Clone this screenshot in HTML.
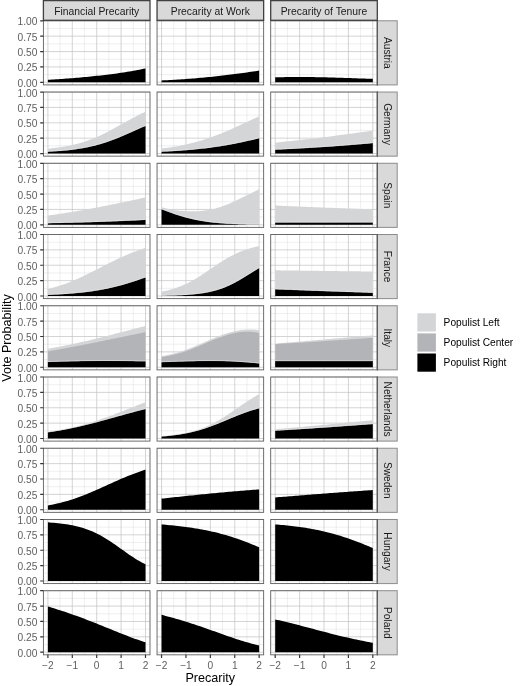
<!DOCTYPE html>
<html lang="en"><head><meta charset="utf-8"><title>Vote Probability by Precarity</title>
<style>html,body{margin:0;padding:0;background:#fff}svg{display:block}</style></head>
<body>
<svg width="520" height="686" viewBox="0 0 520 686" font-family="Liberation Sans, Arial, Helvetica, sans-serif">
<rect width="520" height="686" fill="#fff"/>
<g>
<path d="M43.4 74.61H150M43.4 59.24H150M43.4 43.86H150M43.4 28.49H150M60.1 20.8V84.9M84.5 20.8V84.9M108.9 20.8V84.9M133.3 20.8V84.9" stroke="#d6d6d6" stroke-width="0.4" fill="none"/>
<path d="M43.4 82.3H150M43.4 66.92H150M43.4 51.55H150M43.4 36.17H150M43.4 20.8H150M47.9 20.8V84.9M72.3 20.8V84.9M96.7 20.8V84.9M121.1 20.8V84.9M145.5 20.8V84.9" stroke="#c2c2c2" stroke-width="0.7" fill="none"/>
<polygon points="47.9,79.84 49.93,79.72 51.97,79.59 54,79.46 56.03,79.33 58.07,79.19 60.1,79.05 62.13,78.91 64.17,78.76 66.2,78.61 68.23,78.45 70.27,78.3 72.3,78.13 74.33,77.97 76.37,77.8 78.4,77.63 80.43,77.45 82.47,77.27 84.5,77.08 86.53,76.89 88.57,76.69 90.6,76.5 92.63,76.29 94.67,76.08 96.7,75.87 98.73,75.65 100.77,75.42 102.8,75.19 104.83,74.95 106.87,74.71 108.9,74.46 110.93,74.2 112.97,73.94 115,73.67 117.03,73.39 119.07,73.1 121.1,72.8 123.13,72.5 125.17,72.18 127.2,71.86 129.23,71.52 131.27,71.17 133.3,70.81 135.33,70.44 137.37,70.06 139.4,69.66 141.43,69.25 143.47,68.83 145.5,68.39 145.5,82.3 47.9,82.3" fill="#000000"/>
<rect x="43.4" y="20.8" width="106.6" height="64.1" fill="none" stroke="#5e5e5e" stroke-width="0.9"/>
</g>
<g>
<path d="M157.05 74.61H263.65M157.05 59.24H263.65M157.05 43.86H263.65M157.05 28.49H263.65M173.75 20.8V84.9M198.15 20.8V84.9M222.55 20.8V84.9M246.95 20.8V84.9" stroke="#d6d6d6" stroke-width="0.4" fill="none"/>
<path d="M157.05 82.3H263.65M157.05 66.92H263.65M157.05 51.55H263.65M157.05 36.17H263.65M157.05 20.8H263.65M161.55 20.8V84.9M185.95 20.8V84.9M210.35 20.8V84.9M234.75 20.8V84.9M259.15 20.8V84.9" stroke="#c2c2c2" stroke-width="0.7" fill="none"/>
<polygon points="161.55,80.45 163.58,80.36 165.62,80.26 167.65,80.15 169.68,80.05 171.72,79.93 173.75,79.82 175.78,79.7 177.82,79.57 179.85,79.44 181.88,79.3 183.92,79.16 185.95,79.02 187.98,78.87 190.02,78.71 192.05,78.55 194.08,78.39 196.12,78.22 198.15,78.05 200.18,77.87 202.22,77.68 204.25,77.49 206.28,77.29 208.32,77.09 210.35,76.89 212.38,76.68 214.42,76.46 216.45,76.24 218.48,76.01 220.52,75.78 222.55,75.55 224.58,75.31 226.62,75.06 228.65,74.81 230.68,74.56 232.72,74.3 234.75,74.04 236.78,73.77 238.82,73.5 240.85,73.23 242.88,72.95 244.92,72.67 246.95,72.38 248.98,72.09 251.02,71.8 253.05,71.51 255.08,71.21 257.12,70.92 259.15,70.61 259.15,82.3 161.55,82.3" fill="#000000"/>
<rect x="157.05" y="20.8" width="106.6" height="64.1" fill="none" stroke="#5e5e5e" stroke-width="0.9"/>
</g>
<g>
<path d="M270.7 74.61H377.3M270.7 59.24H377.3M270.7 43.86H377.3M270.7 28.49H377.3M287.4 20.8V84.9M311.8 20.8V84.9M336.2 20.8V84.9M360.6 20.8V84.9" stroke="#d6d6d6" stroke-width="0.4" fill="none"/>
<path d="M270.7 82.3H377.3M270.7 66.92H377.3M270.7 51.55H377.3M270.7 36.17H377.3M270.7 20.8H377.3M275.2 20.8V84.9M299.6 20.8V84.9M324 20.8V84.9M348.4 20.8V84.9M372.8 20.8V84.9" stroke="#c2c2c2" stroke-width="0.7" fill="none"/>
<polygon points="275.2,77.37 277.23,77.31 279.27,77.25 281.3,77.2 283.33,77.16 285.37,77.12 287.4,77.09 289.43,77.06 291.47,77.04 293.5,77.02 295.53,77.01 297.57,77 299.6,77 301.63,77 303.67,77.01 305.7,77.02 307.73,77.04 309.77,77.06 311.8,77.08 313.83,77.11 315.87,77.15 317.9,77.18 319.93,77.22 321.97,77.27 324,77.31 326.03,77.36 328.07,77.41 330.1,77.47 332.13,77.53 334.17,77.58 336.2,77.64 338.23,77.71 340.27,77.77 342.3,77.83 344.33,77.9 346.37,77.97 348.4,78.03 350.43,78.1 352.47,78.17 354.5,78.24 356.53,78.31 358.57,78.38 360.6,78.45 362.63,78.51 364.67,78.58 366.7,78.65 368.73,78.72 370.77,78.78 372.8,78.85 372.8,82.3 275.2,82.3" fill="#000000"/>
<rect x="270.7" y="20.8" width="106.6" height="64.1" fill="none" stroke="#5e5e5e" stroke-width="0.9"/>
</g>
<text x="37.4" y="86.8" font-size="10.2" fill="#5e5e5e" text-anchor="end">0.00</text>
<text x="37.4" y="71.42" font-size="10.2" fill="#5e5e5e" text-anchor="end">0.25</text>
<text x="37.4" y="56.05" font-size="10.2" fill="#5e5e5e" text-anchor="end">0.50</text>
<text x="37.4" y="40.67" font-size="10.2" fill="#5e5e5e" text-anchor="end">0.75</text>
<text x="37.4" y="25.3" font-size="10.2" fill="#5e5e5e" text-anchor="end">1.00</text>
<path d="M40.2 82.3H43.4M40.2 66.92H43.4M40.2 51.55H43.4M40.2 36.17H43.4M40.2 20.8H43.4" stroke="#333333" stroke-width="1.2" fill="none"/>
<rect x="377.3" y="20.8" width="19.9" height="64.1" fill="#d9d9d9" stroke="#8c8c8c" stroke-width="1"/>
<path d="M377.3 20.3V85.4" stroke="#555555" stroke-width="1.15" fill="none"/>
<text transform="translate(383.65 52.85) rotate(90)" font-size="10.2" fill="#1a1a1a" text-anchor="middle">Austria</text>
<g>
<path d="M43.4 145.85H150M43.4 130.48H150M43.4 115.1H150M43.4 99.73H150M60.1 92.04V156.14M84.5 92.04V156.14M108.9 92.04V156.14M133.3 92.04V156.14" stroke="#d6d6d6" stroke-width="0.4" fill="none"/>
<path d="M43.4 153.54H150M43.4 138.16H150M43.4 122.79H150M43.4 107.41H150M43.4 92.04H150M47.9 92.04V156.14M72.3 92.04V156.14M96.7 92.04V156.14M121.1 92.04V156.14M145.5 92.04V156.14" stroke="#c2c2c2" stroke-width="0.7" fill="none"/>
<polygon points="47.9,148.63 49.93,148.44 51.97,148.23 54,148 56.03,147.76 58.07,147.49 60.1,147.2 62.13,146.89 64.17,146.56 66.2,146.2 68.23,145.82 70.27,145.4 72.3,144.96 74.33,144.49 76.37,143.99 78.4,143.46 80.43,142.89 82.47,142.29 84.5,141.65 86.53,140.97 88.57,140.26 90.6,139.51 92.63,138.72 94.67,137.9 96.7,137.03 98.73,136.14 100.77,135.2 102.8,134.23 104.83,133.24 106.87,132.21 108.9,131.15 110.93,130.07 112.97,128.98 115,127.86 117.03,126.73 119.07,125.59 121.1,124.45 123.13,123.3 125.17,122.16 127.2,121.03 129.23,119.91 131.27,118.8 133.3,117.72 135.33,116.65 137.37,115.61 139.4,114.6 141.43,113.62 143.47,112.67 145.5,111.76 145.5,153.54 47.9,153.54" fill="#d4d5d7"/>
<polygon points="47.9,151.7 49.93,151.59 51.97,151.48 54,151.36 56.03,151.22 58.07,151.08 60.1,150.93 62.13,150.76 64.17,150.58 66.2,150.39 68.23,150.18 70.27,149.95 72.3,149.71 74.33,149.45 76.37,149.17 78.4,148.87 80.43,148.55 82.47,148.21 84.5,147.84 86.53,147.45 88.57,147.04 90.6,146.59 92.63,146.12 94.67,145.63 96.7,145.1 98.73,144.54 100.77,143.96 102.8,143.34 104.83,142.7 106.87,142.03 108.9,141.32 110.93,140.59 112.97,139.84 115,139.06 117.03,138.25 119.07,137.42 121.1,136.57 123.13,135.71 125.17,134.83 127.2,133.94 129.23,133.04 131.27,132.13 133.3,131.22 135.33,130.31 137.37,129.41 139.4,128.51 141.43,127.62 143.47,126.74 145.5,125.88 145.5,153.54 47.9,153.54" fill="#000000"/>
<polyline points="47.9,151.35 49.93,151.24 51.97,151.13 54,151.01 56.03,150.87 58.07,150.73 60.1,150.58 62.13,150.41 64.17,150.23 66.2,150.04 68.23,149.83 70.27,149.6 72.3,149.36 74.33,149.1 76.37,148.82 78.4,148.52 80.43,148.2 82.47,147.86 84.5,147.49 86.53,147.1 88.57,146.69 90.6,146.24 92.63,145.77 94.67,145.28 96.7,144.75 98.73,144.19 100.77,143.61 102.8,142.99 104.83,142.35 106.87,141.68 108.9,140.97 110.93,140.24 112.97,139.49 115,138.71 117.03,137.9 119.07,137.07 121.1,136.22 123.13,135.36 125.17,134.48 127.2,133.59 129.23,132.69 131.27,131.78 133.3,130.87 135.33,129.96 137.37,129.06 139.4,128.16 141.43,127.27 143.47,126.39 145.5,125.53" fill="none" stroke="#ebebed" stroke-width="0.6"/>
<rect x="43.4" y="92.04" width="106.6" height="64.1" fill="none" stroke="#5e5e5e" stroke-width="0.9"/>
</g>
<g>
<path d="M157.05 145.85H263.65M157.05 130.48H263.65M157.05 115.1H263.65M157.05 99.73H263.65M173.75 92.04V156.14M198.15 92.04V156.14M222.55 92.04V156.14M246.95 92.04V156.14" stroke="#d6d6d6" stroke-width="0.4" fill="none"/>
<path d="M157.05 153.54H263.65M157.05 138.16H263.65M157.05 122.79H263.65M157.05 107.41H263.65M157.05 92.04H263.65M161.55 92.04V156.14M185.95 92.04V156.14M210.35 92.04V156.14M234.75 92.04V156.14M259.15 92.04V156.14" stroke="#c2c2c2" stroke-width="0.7" fill="none"/>
<polygon points="161.55,148.61 163.58,148.35 165.62,148.08 167.65,147.8 169.68,147.5 171.72,147.19 173.75,146.86 175.78,146.52 177.82,146.15 179.85,145.77 181.88,145.37 183.92,144.95 185.95,144.52 187.98,144.06 190.02,143.58 192.05,143.08 194.08,142.55 196.12,142.01 198.15,141.44 200.18,140.85 202.22,140.24 204.25,139.6 206.28,138.94 208.32,138.26 210.35,137.56 212.38,136.83 214.42,136.08 216.45,135.31 218.48,134.52 220.52,133.71 222.55,132.88 224.58,132.03 226.62,131.16 228.65,130.28 230.68,129.38 232.72,128.47 234.75,127.55 236.78,126.62 238.82,125.69 240.85,124.74 242.88,123.79 244.92,122.84 246.95,121.89 248.98,120.95 251.02,120 253.05,119.06 255.08,118.13 257.12,117.21 259.15,116.3 259.15,153.54 161.55,153.54" fill="#d4d5d7"/>
<polygon points="161.55,151.69 163.58,151.6 165.62,151.5 167.65,151.39 169.68,151.28 171.72,151.16 173.75,151.04 175.78,150.92 177.82,150.78 179.85,150.64 181.88,150.5 183.92,150.34 185.95,150.18 187.98,150.02 190.02,149.84 192.05,149.66 194.08,149.47 196.12,149.27 198.15,149.06 200.18,148.85 202.22,148.62 204.25,148.39 206.28,148.15 208.32,147.89 210.35,147.63 212.38,147.36 214.42,147.07 216.45,146.78 218.48,146.47 220.52,146.16 222.55,145.83 224.58,145.5 226.62,145.15 228.65,144.79 230.68,144.42 232.72,144.04 234.75,143.65 236.78,143.25 238.82,142.83 240.85,142.41 242.88,141.97 244.92,141.53 246.95,141.07 248.98,140.61 251.02,140.13 253.05,139.65 255.08,139.15 257.12,138.65 259.15,138.14 259.15,153.54 161.55,153.54" fill="#000000"/>
<polyline points="161.55,151.34 163.58,151.25 165.62,151.15 167.65,151.04 169.68,150.93 171.72,150.81 173.75,150.69 175.78,150.57 177.82,150.43 179.85,150.29 181.88,150.15 183.92,149.99 185.95,149.83 187.98,149.67 190.02,149.49 192.05,149.31 194.08,149.12 196.12,148.92 198.15,148.71 200.18,148.5 202.22,148.27 204.25,148.04 206.28,147.8 208.32,147.54 210.35,147.28 212.38,147.01 214.42,146.72 216.45,146.43 218.48,146.12 220.52,145.81 222.55,145.48 224.58,145.15 226.62,144.8 228.65,144.44 230.68,144.07 232.72,143.69 234.75,143.3 236.78,142.9 238.82,142.48 240.85,142.06 242.88,141.62 244.92,141.18 246.95,140.72 248.98,140.26 251.02,139.78 253.05,139.3 255.08,138.8 257.12,138.3 259.15,137.79" fill="none" stroke="#ebebed" stroke-width="0.6"/>
<rect x="157.05" y="92.04" width="106.6" height="64.1" fill="none" stroke="#5e5e5e" stroke-width="0.9"/>
</g>
<g>
<path d="M270.7 145.85H377.3M270.7 130.48H377.3M270.7 115.1H377.3M270.7 99.73H377.3M287.4 92.04V156.14M311.8 92.04V156.14M336.2 92.04V156.14M360.6 92.04V156.14" stroke="#d6d6d6" stroke-width="0.4" fill="none"/>
<path d="M270.7 153.54H377.3M270.7 138.16H377.3M270.7 122.79H377.3M270.7 107.41H377.3M270.7 92.04H377.3M275.2 92.04V156.14M299.6 92.04V156.14M324 92.04V156.14M348.4 92.04V156.14M372.8 92.04V156.14" stroke="#c2c2c2" stroke-width="0.7" fill="none"/>
<polygon points="275.2,142.59 277.23,142.4 279.27,142.2 281.3,141.99 283.33,141.79 285.37,141.58 287.4,141.37 289.43,141.16 291.47,140.95 293.5,140.73 295.53,140.51 297.57,140.29 299.6,140.06 301.63,139.84 303.67,139.61 305.7,139.37 307.73,139.14 309.77,138.9 311.8,138.66 313.83,138.42 315.87,138.18 317.9,137.93 319.93,137.68 321.97,137.43 324,137.18 326.03,136.93 328.07,136.67 330.1,136.41 332.13,136.15 334.17,135.88 336.2,135.62 338.23,135.35 340.27,135.08 342.3,134.81 344.33,134.54 346.37,134.26 348.4,133.99 350.43,133.71 352.47,133.43 354.5,133.14 356.53,132.86 358.57,132.58 360.6,132.29 362.63,132 364.67,131.71 366.7,131.42 368.73,131.13 370.77,130.83 372.8,130.54 372.8,153.54 275.2,153.54" fill="#d4d5d7"/>
<polygon points="275.2,149.67 277.23,149.57 279.27,149.48 281.3,149.39 283.33,149.29 285.37,149.19 287.4,149.09 289.43,148.99 291.47,148.88 293.5,148.78 295.53,148.67 297.57,148.56 299.6,148.45 301.63,148.34 303.67,148.22 305.7,148.1 307.73,147.99 309.77,147.86 311.8,147.74 313.83,147.62 315.87,147.49 317.9,147.36 319.93,147.23 321.97,147.09 324,146.96 326.03,146.82 328.07,146.68 330.1,146.54 332.13,146.4 334.17,146.25 336.2,146.1 338.23,145.95 340.27,145.8 342.3,145.65 344.33,145.49 346.37,145.33 348.4,145.17 350.43,145.01 352.47,144.85 354.5,144.68 356.53,144.51 358.57,144.34 360.6,144.17 362.63,143.99 364.67,143.81 366.7,143.63 368.73,143.45 370.77,143.27 372.8,143.08 372.8,153.54 275.2,153.54" fill="#000000"/>
<polyline points="275.2,149.32 277.23,149.22 279.27,149.13 281.3,149.04 283.33,148.94 285.37,148.84 287.4,148.74 289.43,148.64 291.47,148.53 293.5,148.43 295.53,148.32 297.57,148.21 299.6,148.1 301.63,147.99 303.67,147.87 305.7,147.75 307.73,147.64 309.77,147.51 311.8,147.39 313.83,147.27 315.87,147.14 317.9,147.01 319.93,146.88 321.97,146.74 324,146.61 326.03,146.47 328.07,146.33 330.1,146.19 332.13,146.05 334.17,145.9 336.2,145.75 338.23,145.6 340.27,145.45 342.3,145.3 344.33,145.14 346.37,144.98 348.4,144.82 350.43,144.66 352.47,144.5 354.5,144.33 356.53,144.16 358.57,143.99 360.6,143.82 362.63,143.64 364.67,143.46 366.7,143.28 368.73,143.1 370.77,142.92 372.8,142.73" fill="none" stroke="#ebebed" stroke-width="0.6"/>
<rect x="270.7" y="92.04" width="106.6" height="64.1" fill="none" stroke="#5e5e5e" stroke-width="0.9"/>
</g>
<text x="37.4" y="158.04" font-size="10.2" fill="#5e5e5e" text-anchor="end">0.00</text>
<text x="37.4" y="142.66" font-size="10.2" fill="#5e5e5e" text-anchor="end">0.25</text>
<text x="37.4" y="127.29" font-size="10.2" fill="#5e5e5e" text-anchor="end">0.50</text>
<text x="37.4" y="111.91" font-size="10.2" fill="#5e5e5e" text-anchor="end">0.75</text>
<text x="37.4" y="96.54" font-size="10.2" fill="#5e5e5e" text-anchor="end">1.00</text>
<path d="M40.2 153.54H43.4M40.2 138.16H43.4M40.2 122.79H43.4M40.2 107.41H43.4M40.2 92.04H43.4" stroke="#333333" stroke-width="1.2" fill="none"/>
<rect x="377.3" y="92.04" width="19.9" height="64.1" fill="#d9d9d9" stroke="#8c8c8c" stroke-width="1"/>
<path d="M377.3 91.54V156.64" stroke="#555555" stroke-width="1.15" fill="none"/>
<text transform="translate(383.65 124.09) rotate(90)" font-size="10.2" fill="#1a1a1a" text-anchor="middle">Germany</text>
<g>
<path d="M43.4 217.09H150M43.4 201.72H150M43.4 186.34H150M43.4 170.97H150M60.1 163.28V227.38M84.5 163.28V227.38M108.9 163.28V227.38M133.3 163.28V227.38" stroke="#d6d6d6" stroke-width="0.4" fill="none"/>
<path d="M43.4 224.78H150M43.4 209.41H150M43.4 194.03H150M43.4 178.66H150M43.4 163.28H150M47.9 163.28V227.38M72.3 163.28V227.38M96.7 163.28V227.38M121.1 163.28V227.38M145.5 163.28V227.38" stroke="#c2c2c2" stroke-width="0.7" fill="none"/>
<polygon points="47.9,215.55 49.93,215.27 51.97,214.99 54,214.7 56.03,214.41 58.07,214.11 60.1,213.8 62.13,213.49 64.17,213.18 66.2,212.86 68.23,212.54 70.27,212.21 72.3,211.88 74.33,211.54 76.37,211.2 78.4,210.85 80.43,210.5 82.47,210.14 84.5,209.78 86.53,209.42 88.57,209.05 90.6,208.68 92.63,208.3 94.67,207.92 96.7,207.54 98.73,207.15 100.77,206.76 102.8,206.36 104.83,205.96 106.87,205.56 108.9,205.16 110.93,204.75 112.97,204.33 115,203.92 117.03,203.5 119.07,203.08 121.1,202.66 123.13,202.23 125.17,201.8 127.2,201.37 129.23,200.94 131.27,200.5 133.3,200.07 135.33,199.63 137.37,199.19 139.4,198.74 141.43,198.3 143.47,197.85 145.5,197.41 145.5,224.78 47.9,224.78" fill="#d4d5d7"/>
<polygon points="47.9,223.18 49.93,223.14 51.97,223.1 54,223.06 56.03,223.02 58.07,222.98 60.1,222.93 62.13,222.89 64.17,222.84 66.2,222.8 68.23,222.75 70.27,222.7 72.3,222.65 74.33,222.6 76.37,222.55 78.4,222.49 80.43,222.44 82.47,222.38 84.5,222.32 86.53,222.27 88.57,222.21 90.6,222.14 92.63,222.08 94.67,222.02 96.7,221.95 98.73,221.88 100.77,221.82 102.8,221.75 104.83,221.67 106.87,221.6 108.9,221.52 110.93,221.45 112.97,221.37 115,221.29 117.03,221.21 119.07,221.12 121.1,221.04 123.13,220.95 125.17,220.86 127.2,220.77 129.23,220.68 131.27,220.58 133.3,220.49 135.33,220.39 137.37,220.29 139.4,220.18 141.43,220.08 143.47,219.97 145.5,219.86 145.5,224.78 47.9,224.78" fill="#000000"/>
<polyline points="47.9,222.83 49.93,222.79 51.97,222.75 54,222.71 56.03,222.67 58.07,222.63 60.1,222.58 62.13,222.54 64.17,222.49 66.2,222.45 68.23,222.4 70.27,222.35 72.3,222.3 74.33,222.25 76.37,222.2 78.4,222.14 80.43,222.09 82.47,222.03 84.5,221.97 86.53,221.92 88.57,221.86 90.6,221.79 92.63,221.73 94.67,221.67 96.7,221.6 98.73,221.53 100.77,221.47 102.8,221.4 104.83,221.32 106.87,221.25 108.9,221.17 110.93,221.1 112.97,221.02 115,220.94 117.03,220.86 119.07,220.77 121.1,220.69 123.13,220.6 125.17,220.51 127.2,220.42 129.23,220.33 131.27,220.23 133.3,220.14 135.33,220.04 137.37,219.94 139.4,219.83 141.43,219.73 143.47,219.62 145.5,219.51" fill="none" stroke="#ebebed" stroke-width="0.6"/>
<rect x="43.4" y="163.28" width="106.6" height="64.1" fill="none" stroke="#5e5e5e" stroke-width="0.9"/>
</g>
<g>
<path d="M157.05 217.09H263.65M157.05 201.72H263.65M157.05 186.34H263.65M157.05 170.97H263.65M173.75 163.28V227.38M198.15 163.28V227.38M222.55 163.28V227.38M246.95 163.28V227.38" stroke="#d6d6d6" stroke-width="0.4" fill="none"/>
<path d="M157.05 224.78H263.65M157.05 209.41H263.65M157.05 194.03H263.65M157.05 178.66H263.65M157.05 163.28H263.65M161.55 163.28V227.38M185.95 163.28V227.38M210.35 163.28V227.38M234.75 163.28V227.38M259.15 163.28V227.38" stroke="#c2c2c2" stroke-width="0.7" fill="none"/>
<polygon points="161.55,207.19 163.58,207.71 165.62,208.21 167.65,208.69 169.68,209.14 171.72,209.54 173.75,209.9 175.78,210.2 177.82,210.47 179.85,210.68 181.88,210.86 183.92,211.01 185.95,211.13 187.98,211.22 190.02,211.27 192.05,211.3 194.08,211.29 196.12,211.23 198.15,211.13 200.18,210.97 202.22,210.77 204.25,210.52 206.28,210.23 208.32,209.9 210.35,209.53 212.38,209.12 214.42,208.67 216.45,208.17 218.48,207.62 220.52,207.01 222.55,206.33 224.58,205.58 226.62,204.77 228.65,203.9 230.68,203 232.72,202.06 234.75,201.1 236.78,200.14 238.82,199.18 240.85,198.22 242.88,197.24 244.92,196.26 246.95,195.26 248.98,194.25 251.02,193.22 253.05,192.2 255.08,191.16 257.12,190.13 259.15,189.11 259.15,224.78 161.55,224.78" fill="#d4d5d7"/>
<polygon points="161.55,209.32 163.58,210.09 165.62,210.86 167.65,211.61 169.68,212.35 171.72,213.07 173.75,213.78 175.78,214.46 177.82,215.12 179.85,215.75 181.88,216.36 183.92,216.95 185.95,217.5 187.98,218.04 190.02,218.54 192.05,219.02 194.08,219.47 196.12,219.9 198.15,220.29 200.18,220.67 202.22,221.02 204.25,221.34 206.28,221.64 208.32,221.92 210.35,222.18 212.38,222.42 214.42,222.64 216.45,222.84 218.48,223.03 220.52,223.2 222.55,223.35 224.58,223.5 226.62,223.63 228.65,223.74 230.68,223.85 232.72,223.95 234.75,224.03 236.78,224.11 238.82,224.18 240.85,224.25 242.88,224.3 244.92,224.36 246.95,224.4 248.98,224.44 251.02,224.48 253.05,224.52 255.08,224.55 257.12,224.57 259.15,224.6 259.15,224.78 161.55,224.78" fill="#000000"/>
<polyline points="161.55,208.97 163.58,209.74 165.62,210.51 167.65,211.26 169.68,212 171.72,212.72 173.75,213.43 175.78,214.11 177.82,214.77 179.85,215.4 181.88,216.01 183.92,216.6 185.95,217.15 187.98,217.69 190.02,218.19 192.05,218.67 194.08,219.12 196.12,219.55 198.15,219.94 200.18,220.32 202.22,220.67 204.25,220.99 206.28,221.29 208.32,221.57 210.35,221.83 212.38,222.07 214.42,222.29 216.45,222.49 218.48,222.68 220.52,222.85 222.55,223 224.58,223.15 226.62,223.28 228.65,223.39 230.68,223.5 232.72,223.6 234.75,223.68 236.78,223.76 238.82,223.83 240.85,223.9 242.88,223.95 244.92,224.01 246.95,224.05 248.98,224.09 251.02,224.13 253.05,224.17 255.08,224.2 257.12,224.22 259.15,224.25" fill="none" stroke="#ebebed" stroke-width="0.6"/>
<rect x="157.05" y="163.28" width="106.6" height="64.1" fill="none" stroke="#5e5e5e" stroke-width="0.9"/>
</g>
<g>
<path d="M270.7 217.09H377.3M270.7 201.72H377.3M270.7 186.34H377.3M270.7 170.97H377.3M287.4 163.28V227.38M311.8 163.28V227.38M336.2 163.28V227.38M360.6 163.28V227.38" stroke="#d6d6d6" stroke-width="0.4" fill="none"/>
<path d="M270.7 224.78H377.3M270.7 209.41H377.3M270.7 194.03H377.3M270.7 178.66H377.3M270.7 163.28H377.3M275.2 163.28V227.38M299.6 163.28V227.38M324 163.28V227.38M348.4 163.28V227.38M372.8 163.28V227.38" stroke="#c2c2c2" stroke-width="0.7" fill="none"/>
<polygon points="275.2,205.53 277.23,205.62 279.27,205.71 281.3,205.8 283.33,205.89 285.37,205.98 287.4,206.07 289.43,206.16 291.47,206.24 293.5,206.33 295.53,206.42 297.57,206.5 299.6,206.59 301.63,206.67 303.67,206.75 305.7,206.84 307.73,206.92 309.77,207 311.8,207.08 313.83,207.16 315.87,207.24 317.9,207.32 319.93,207.4 321.97,207.48 324,207.56 326.03,207.64 328.07,207.71 330.1,207.79 332.13,207.87 334.17,207.94 336.2,208.02 338.23,208.09 340.27,208.17 342.3,208.24 344.33,208.31 346.37,208.39 348.4,208.46 350.43,208.53 352.47,208.6 354.5,208.67 356.53,208.74 358.57,208.81 360.6,208.88 362.63,208.95 364.67,209.02 366.7,209.08 368.73,209.15 370.77,209.22 372.8,209.28 372.8,224.78 275.2,224.78" fill="#d4d5d7"/>
<polygon points="275.2,222.57 277.23,222.56 279.27,222.56 281.3,222.56 283.33,222.56 285.37,222.56 287.4,222.56 289.43,222.55 291.47,222.55 293.5,222.55 295.53,222.55 297.57,222.55 299.6,222.54 301.63,222.54 303.67,222.54 305.7,222.53 307.73,222.53 309.77,222.53 311.8,222.53 313.83,222.52 315.87,222.52 317.9,222.52 319.93,222.51 321.97,222.51 324,222.5 326.03,222.5 328.07,222.5 330.1,222.49 332.13,222.49 334.17,222.48 336.2,222.48 338.23,222.48 340.27,222.47 342.3,222.47 344.33,222.46 346.37,222.46 348.4,222.45 350.43,222.45 352.47,222.44 354.5,222.44 356.53,222.43 358.57,222.42 360.6,222.42 362.63,222.41 364.67,222.41 366.7,222.4 368.73,222.39 370.77,222.39 372.8,222.38 372.8,224.78 275.2,224.78" fill="#000000"/>
<polyline points="275.2,222.22 277.23,222.21 279.27,222.21 281.3,222.21 283.33,222.21 285.37,222.21 287.4,222.21 289.43,222.2 291.47,222.2 293.5,222.2 295.53,222.2 297.57,222.2 299.6,222.19 301.63,222.19 303.67,222.19 305.7,222.18 307.73,222.18 309.77,222.18 311.8,222.18 313.83,222.17 315.87,222.17 317.9,222.17 319.93,222.16 321.97,222.16 324,222.15 326.03,222.15 328.07,222.15 330.1,222.14 332.13,222.14 334.17,222.13 336.2,222.13 338.23,222.13 340.27,222.12 342.3,222.12 344.33,222.11 346.37,222.11 348.4,222.1 350.43,222.1 352.47,222.09 354.5,222.09 356.53,222.08 358.57,222.07 360.6,222.07 362.63,222.06 364.67,222.06 366.7,222.05 368.73,222.04 370.77,222.04 372.8,222.03" fill="none" stroke="#ebebed" stroke-width="0.6"/>
<rect x="270.7" y="163.28" width="106.6" height="64.1" fill="none" stroke="#5e5e5e" stroke-width="0.9"/>
</g>
<text x="37.4" y="229.28" font-size="10.2" fill="#5e5e5e" text-anchor="end">0.00</text>
<text x="37.4" y="213.91" font-size="10.2" fill="#5e5e5e" text-anchor="end">0.25</text>
<text x="37.4" y="198.53" font-size="10.2" fill="#5e5e5e" text-anchor="end">0.50</text>
<text x="37.4" y="183.16" font-size="10.2" fill="#5e5e5e" text-anchor="end">0.75</text>
<text x="37.4" y="167.78" font-size="10.2" fill="#5e5e5e" text-anchor="end">1.00</text>
<path d="M40.2 224.78H43.4M40.2 209.41H43.4M40.2 194.03H43.4M40.2 178.66H43.4M40.2 163.28H43.4" stroke="#333333" stroke-width="1.2" fill="none"/>
<rect x="377.3" y="163.28" width="19.9" height="64.1" fill="#d9d9d9" stroke="#8c8c8c" stroke-width="1"/>
<path d="M377.3 162.78V227.88" stroke="#555555" stroke-width="1.15" fill="none"/>
<text transform="translate(383.65 195.33) rotate(90)" font-size="10.2" fill="#1a1a1a" text-anchor="middle">Spain</text>
<g>
<path d="M43.4 288.33H150M43.4 272.96H150M43.4 257.58H150M43.4 242.21H150M60.1 234.52V298.62M84.5 234.52V298.62M108.9 234.52V298.62M133.3 234.52V298.62" stroke="#d6d6d6" stroke-width="0.4" fill="none"/>
<path d="M43.4 296.02H150M43.4 280.64H150M43.4 265.27H150M43.4 249.89H150M43.4 234.52H150M47.9 234.52V298.62M72.3 234.52V298.62M96.7 234.52V298.62M121.1 234.52V298.62M145.5 234.52V298.62" stroke="#c2c2c2" stroke-width="0.7" fill="none"/>
<polygon points="47.9,289 49.93,288.49 51.97,287.96 54,287.39 56.03,286.8 58.07,286.18 60.1,285.53 62.13,284.85 64.17,284.14 66.2,283.4 68.23,282.63 70.27,281.83 72.3,281.01 74.33,280.16 76.37,279.28 78.4,278.38 80.43,277.46 82.47,276.51 84.5,275.55 86.53,274.56 88.57,273.57 90.6,272.56 92.63,271.53 94.67,270.5 96.7,269.46 98.73,268.42 100.77,267.38 102.8,266.34 104.83,265.3 106.87,264.26 108.9,263.23 110.93,262.22 112.97,261.21 115,260.22 117.03,259.24 119.07,258.29 121.1,257.35 123.13,256.42 125.17,255.53 127.2,254.65 129.23,253.79 131.27,252.96 133.3,252.16 135.33,251.38 137.37,250.62 139.4,249.89 141.43,249.19 143.47,248.51 145.5,247.85 145.5,296.02 47.9,296.02" fill="#d4d5d7"/>
<polygon points="47.9,294.85 49.93,294.77 51.97,294.68 54,294.59 56.03,294.49 58.07,294.39 60.1,294.28 62.13,294.16 64.17,294.03 66.2,293.89 68.23,293.75 70.27,293.59 72.3,293.43 74.33,293.26 76.37,293.07 78.4,292.87 80.43,292.67 82.47,292.45 84.5,292.21 86.53,291.96 88.57,291.7 90.6,291.43 92.63,291.14 94.67,290.83 96.7,290.51 98.73,290.17 100.77,289.81 102.8,289.44 104.83,289.04 106.87,288.63 108.9,288.21 110.93,287.76 112.97,287.29 115,286.8 117.03,286.3 119.07,285.77 121.1,285.23 123.13,284.67 125.17,284.09 127.2,283.49 129.23,282.87 131.27,282.24 133.3,281.59 135.33,280.92 137.37,280.24 139.4,279.55 141.43,278.84 143.47,278.12 145.5,277.4 145.5,296.02 47.9,296.02" fill="#000000"/>
<polyline points="47.9,294.5 49.93,294.42 51.97,294.33 54,294.24 56.03,294.14 58.07,294.04 60.1,293.93 62.13,293.81 64.17,293.68 66.2,293.54 68.23,293.4 70.27,293.24 72.3,293.08 74.33,292.91 76.37,292.72 78.4,292.52 80.43,292.32 82.47,292.1 84.5,291.86 86.53,291.61 88.57,291.35 90.6,291.08 92.63,290.79 94.67,290.48 96.7,290.16 98.73,289.82 100.77,289.46 102.8,289.09 104.83,288.69 106.87,288.28 108.9,287.86 110.93,287.41 112.97,286.94 115,286.45 117.03,285.95 119.07,285.42 121.1,284.88 123.13,284.32 125.17,283.74 127.2,283.14 129.23,282.52 131.27,281.89 133.3,281.24 135.33,280.57 137.37,279.89 139.4,279.2 141.43,278.49 143.47,277.77 145.5,277.05" fill="none" stroke="#ebebed" stroke-width="0.6"/>
<rect x="43.4" y="234.52" width="106.6" height="64.1" fill="none" stroke="#5e5e5e" stroke-width="0.9"/>
</g>
<g>
<path d="M157.05 288.33H263.65M157.05 272.96H263.65M157.05 257.58H263.65M157.05 242.21H263.65M173.75 234.52V298.62M198.15 234.52V298.62M222.55 234.52V298.62M246.95 234.52V298.62" stroke="#d6d6d6" stroke-width="0.4" fill="none"/>
<path d="M157.05 296.02H263.65M157.05 280.64H263.65M157.05 265.27H263.65M157.05 249.89H263.65M157.05 234.52H263.65M161.55 234.52V298.62M185.95 234.52V298.62M210.35 234.52V298.62M234.75 234.52V298.62M259.15 234.52V298.62" stroke="#c2c2c2" stroke-width="0.7" fill="none"/>
<polygon points="161.55,291.69 163.58,291.3 165.62,290.86 167.65,290.39 169.68,289.87 171.72,289.31 173.75,288.7 175.78,288.05 177.82,287.34 179.85,286.57 181.88,285.75 183.92,284.87 185.95,283.94 187.98,282.95 190.02,281.9 192.05,280.8 194.08,279.64 196.12,278.44 198.15,277.19 200.18,275.9 202.22,274.58 204.25,273.22 206.28,271.85 208.32,270.46 210.35,269.07 212.38,267.68 214.42,266.29 216.45,264.92 218.48,263.57 220.52,262.25 222.55,260.97 224.58,259.72 226.62,258.51 228.65,257.36 230.68,256.25 232.72,255.19 234.75,254.19 236.78,253.24 238.82,252.34 240.85,251.5 242.88,250.71 244.92,249.98 246.95,249.29 248.98,248.65 251.02,248.06 253.05,247.52 255.08,247.02 257.12,246.57 259.15,246.15 259.15,296.02 161.55,296.02" fill="#d4d5d7"/>
<polygon points="161.55,295.71 163.58,295.68 165.62,295.64 167.65,295.6 169.68,295.56 171.72,295.5 173.75,295.44 175.78,295.38 177.82,295.3 179.85,295.22 181.88,295.13 183.92,295.02 185.95,294.9 187.98,294.77 190.02,294.62 192.05,294.45 194.08,294.27 196.12,294.06 198.15,293.82 200.18,293.57 202.22,293.28 204.25,292.96 206.28,292.6 208.32,292.21 210.35,291.78 212.38,291.3 214.42,290.78 216.45,290.21 218.48,289.59 220.52,288.92 222.55,288.2 224.58,287.41 226.62,286.58 228.65,285.69 230.68,284.74 232.72,283.74 234.75,282.69 236.78,281.59 238.82,280.45 240.85,279.28 242.88,278.07 244.92,276.83 246.95,275.58 248.98,274.32 251.02,273.05 253.05,271.78 255.08,270.53 257.12,269.29 259.15,268.08 259.15,296.02 161.55,296.02" fill="#000000"/>
<polyline points="161.55,295.36 163.58,295.33 165.62,295.29 167.65,295.25 169.68,295.21 171.72,295.15 173.75,295.09 175.78,295.03 177.82,294.95 179.85,294.87 181.88,294.78 183.92,294.67 185.95,294.55 187.98,294.42 190.02,294.27 192.05,294.1 194.08,293.92 196.12,293.71 198.15,293.47 200.18,293.22 202.22,292.93 204.25,292.61 206.28,292.25 208.32,291.86 210.35,291.43 212.38,290.95 214.42,290.43 216.45,289.86 218.48,289.24 220.52,288.57 222.55,287.85 224.58,287.06 226.62,286.23 228.65,285.34 230.68,284.39 232.72,283.39 234.75,282.34 236.78,281.24 238.82,280.1 240.85,278.93 242.88,277.72 244.92,276.48 246.95,275.23 248.98,273.97 251.02,272.7 253.05,271.43 255.08,270.18 257.12,268.94 259.15,267.73" fill="none" stroke="#ebebed" stroke-width="0.6"/>
<rect x="157.05" y="234.52" width="106.6" height="64.1" fill="none" stroke="#5e5e5e" stroke-width="0.9"/>
</g>
<g>
<path d="M270.7 288.33H377.3M270.7 272.96H377.3M270.7 257.58H377.3M270.7 242.21H377.3M287.4 234.52V298.62M311.8 234.52V298.62M336.2 234.52V298.62M360.6 234.52V298.62" stroke="#d6d6d6" stroke-width="0.4" fill="none"/>
<path d="M270.7 296.02H377.3M270.7 280.64H377.3M270.7 265.27H377.3M270.7 249.89H377.3M270.7 234.52H377.3M275.2 234.52V298.62M299.6 234.52V298.62M324 234.52V298.62M348.4 234.52V298.62M372.8 234.52V298.62" stroke="#c2c2c2" stroke-width="0.7" fill="none"/>
<polygon points="275.2,270.31 277.23,270.34 279.27,270.36 281.3,270.39 283.33,270.42 285.37,270.44 287.4,270.47 289.43,270.49 291.47,270.52 293.5,270.54 295.53,270.57 297.57,270.59 299.6,270.62 301.63,270.65 303.67,270.67 305.7,270.7 307.73,270.72 309.77,270.75 311.8,270.77 313.83,270.8 315.87,270.83 317.9,270.85 319.93,270.88 321.97,270.9 324,270.93 326.03,270.95 328.07,270.98 330.1,271 332.13,271.03 334.17,271.06 336.2,271.08 338.23,271.11 340.27,271.13 342.3,271.16 344.33,271.18 346.37,271.21 348.4,271.24 350.43,271.26 352.47,271.29 354.5,271.31 356.53,271.34 358.57,271.36 360.6,271.39 362.63,271.41 364.67,271.44 366.7,271.47 368.73,271.49 370.77,271.52 372.8,271.54 372.8,296.02 275.2,296.02" fill="#d4d5d7"/>
<polygon points="275.2,289.25 277.23,289.33 279.27,289.41 281.3,289.49 283.33,289.56 285.37,289.64 287.4,289.72 289.43,289.8 291.47,289.87 293.5,289.95 295.53,290.03 297.57,290.11 299.6,290.18 301.63,290.26 303.67,290.34 305.7,290.42 307.73,290.49 309.77,290.57 311.8,290.65 313.83,290.72 315.87,290.8 317.9,290.87 319.93,290.95 321.97,291.03 324,291.1 326.03,291.17 328.07,291.25 330.1,291.32 332.13,291.4 334.17,291.47 336.2,291.54 338.23,291.61 340.27,291.69 342.3,291.76 344.33,291.83 346.37,291.9 348.4,291.97 350.43,292.04 352.47,292.11 354.5,292.17 356.53,292.24 358.57,292.31 360.6,292.37 362.63,292.44 364.67,292.51 366.7,292.57 368.73,292.63 370.77,292.7 372.8,292.76 372.8,296.02 275.2,296.02" fill="#000000"/>
<polyline points="275.2,288.9 277.23,288.98 279.27,289.06 281.3,289.14 283.33,289.21 285.37,289.29 287.4,289.37 289.43,289.45 291.47,289.52 293.5,289.6 295.53,289.68 297.57,289.76 299.6,289.83 301.63,289.91 303.67,289.99 305.7,290.07 307.73,290.14 309.77,290.22 311.8,290.3 313.83,290.37 315.87,290.45 317.9,290.52 319.93,290.6 321.97,290.68 324,290.75 326.03,290.82 328.07,290.9 330.1,290.97 332.13,291.05 334.17,291.12 336.2,291.19 338.23,291.26 340.27,291.34 342.3,291.41 344.33,291.48 346.37,291.55 348.4,291.62 350.43,291.69 352.47,291.76 354.5,291.82 356.53,291.89 358.57,291.96 360.6,292.02 362.63,292.09 364.67,292.16 366.7,292.22 368.73,292.28 370.77,292.35 372.8,292.41" fill="none" stroke="#ebebed" stroke-width="0.6"/>
<rect x="270.7" y="234.52" width="106.6" height="64.1" fill="none" stroke="#5e5e5e" stroke-width="0.9"/>
</g>
<text x="37.4" y="300.52" font-size="10.2" fill="#5e5e5e" text-anchor="end">0.00</text>
<text x="37.4" y="285.14" font-size="10.2" fill="#5e5e5e" text-anchor="end">0.25</text>
<text x="37.4" y="269.77" font-size="10.2" fill="#5e5e5e" text-anchor="end">0.50</text>
<text x="37.4" y="254.39" font-size="10.2" fill="#5e5e5e" text-anchor="end">0.75</text>
<text x="37.4" y="239.02" font-size="10.2" fill="#5e5e5e" text-anchor="end">1.00</text>
<path d="M40.2 296.02H43.4M40.2 280.64H43.4M40.2 265.27H43.4M40.2 249.89H43.4M40.2 234.52H43.4" stroke="#333333" stroke-width="1.2" fill="none"/>
<rect x="377.3" y="234.52" width="19.9" height="64.1" fill="#d9d9d9" stroke="#8c8c8c" stroke-width="1"/>
<path d="M377.3 234.02V299.12" stroke="#555555" stroke-width="1.15" fill="none"/>
<text transform="translate(383.65 266.57) rotate(90)" font-size="10.2" fill="#1a1a1a" text-anchor="middle">France</text>
<g>
<path d="M43.4 359.57H150M43.4 344.2H150M43.4 328.82H150M43.4 313.45H150M60.1 305.76V369.86M84.5 305.76V369.86M108.9 305.76V369.86M133.3 305.76V369.86" stroke="#d6d6d6" stroke-width="0.4" fill="none"/>
<path d="M43.4 367.26H150M43.4 351.88H150M43.4 336.51H150M43.4 321.13H150M43.4 305.76H150M47.9 305.76V369.86M72.3 305.76V369.86M96.7 305.76V369.86M121.1 305.76V369.86M145.5 305.76V369.86" stroke="#c2c2c2" stroke-width="0.7" fill="none"/>
<polygon points="47.9,348.81 49.93,348.45 51.97,348.09 54,347.72 56.03,347.34 58.07,346.96 60.1,346.57 62.13,346.17 64.17,345.76 66.2,345.35 68.23,344.94 70.27,344.51 72.3,344.08 74.33,343.65 76.37,343.21 78.4,342.76 80.43,342.3 82.47,341.84 84.5,341.38 86.53,340.91 88.57,340.43 90.6,339.95 92.63,339.46 94.67,338.97 96.7,338.48 98.73,337.98 100.77,337.47 102.8,336.97 104.83,336.46 106.87,335.94 108.9,335.42 110.93,334.9 112.97,334.38 115,333.86 117.03,333.33 119.07,332.81 121.1,332.28 123.13,331.75 125.17,331.22 127.2,330.69 129.23,330.16 131.27,329.63 133.3,329.11 135.33,328.58 137.37,328.06 139.4,327.54 141.43,327.02 143.47,326.51 145.5,325.99 145.5,367.26 47.9,367.26" fill="#d4d5d7"/>
<polygon points="47.9,351.33 49.93,350.99 51.97,350.64 54,350.29 56.03,349.94 58.07,349.58 60.1,349.22 62.13,348.85 64.17,348.48 66.2,348.11 68.23,347.73 70.27,347.35 72.3,346.97 74.33,346.58 76.37,346.2 78.4,345.8 80.43,345.41 82.47,345.01 84.5,344.61 86.53,344.21 88.57,343.8 90.6,343.4 92.63,342.99 94.67,342.58 96.7,342.17 98.73,341.75 100.77,341.34 102.8,340.92 104.83,340.51 106.87,340.09 108.9,339.67 110.93,339.25 112.97,338.83 115,338.41 117.03,338 119.07,337.58 121.1,337.16 123.13,336.74 125.17,336.32 127.2,335.9 129.23,335.49 131.27,335.07 133.3,334.66 135.33,334.24 137.37,333.83 139.4,333.42 141.43,333.02 143.47,332.61 145.5,332.2 145.5,367.26 47.9,367.26" fill="#b3b4b8"/>
<polygon points="47.9,361.97 49.93,361.9 51.97,361.84 54,361.77 56.03,361.71 58.07,361.65 60.1,361.59 62.13,361.54 64.17,361.48 66.2,361.43 68.23,361.38 70.27,361.33 72.3,361.28 74.33,361.24 76.37,361.2 78.4,361.16 80.43,361.12 82.47,361.09 84.5,361.06 86.53,361.03 88.57,361 90.6,360.98 92.63,360.96 94.67,360.94 96.7,360.93 98.73,360.91 100.77,360.9 102.8,360.89 104.83,360.89 106.87,360.89 108.9,360.89 110.93,360.89 112.97,360.9 115,360.91 117.03,360.92 119.07,360.93 121.1,360.95 123.13,360.97 125.17,360.99 127.2,361.02 129.23,361.05 131.27,361.08 133.3,361.11 135.33,361.14 137.37,361.18 139.4,361.22 141.43,361.26 143.47,361.31 145.5,361.36 145.5,367.26 47.9,367.26" fill="#000000"/>
<polyline points="47.9,361.62 49.93,361.55 51.97,361.49 54,361.42 56.03,361.36 58.07,361.3 60.1,361.24 62.13,361.19 64.17,361.13 66.2,361.08 68.23,361.03 70.27,360.98 72.3,360.93 74.33,360.89 76.37,360.85 78.4,360.81 80.43,360.77 82.47,360.74 84.5,360.71 86.53,360.68 88.57,360.65 90.6,360.63 92.63,360.61 94.67,360.59 96.7,360.58 98.73,360.56 100.77,360.55 102.8,360.54 104.83,360.54 106.87,360.54 108.9,360.54 110.93,360.54 112.97,360.55 115,360.56 117.03,360.57 119.07,360.58 121.1,360.6 123.13,360.62 125.17,360.64 127.2,360.67 129.23,360.7 131.27,360.73 133.3,360.76 135.33,360.79 137.37,360.83 139.4,360.87 141.43,360.91 143.47,360.96 145.5,361.01" fill="none" stroke="#ebebed" stroke-width="0.6"/>
<rect x="43.4" y="305.76" width="106.6" height="64.1" fill="none" stroke="#5e5e5e" stroke-width="0.9"/>
</g>
<g>
<path d="M157.05 359.57H263.65M157.05 344.2H263.65M157.05 328.82H263.65M157.05 313.45H263.65M173.75 305.76V369.86M198.15 305.76V369.86M222.55 305.76V369.86M246.95 305.76V369.86" stroke="#d6d6d6" stroke-width="0.4" fill="none"/>
<path d="M157.05 367.26H263.65M157.05 351.88H263.65M157.05 336.51H263.65M157.05 321.13H263.65M157.05 305.76H263.65M161.55 305.76V369.86M185.95 305.76V369.86M210.35 305.76V369.86M234.75 305.76V369.86M259.15 305.76V369.86" stroke="#c2c2c2" stroke-width="0.7" fill="none"/>
<polygon points="161.55,356.06 163.58,355.74 165.62,355.39 167.65,355 169.68,354.57 171.72,354.1 173.75,353.6 175.78,353.06 177.82,352.49 179.85,351.87 181.88,351.22 183.92,350.54 185.95,349.83 187.98,349.08 190.02,348.3 192.05,347.5 194.08,346.67 196.12,345.82 198.15,344.95 200.18,344.07 202.22,343.18 204.25,342.29 206.28,341.39 208.32,340.5 210.35,339.62 212.38,338.75 214.42,337.9 216.45,337.07 218.48,336.26 220.52,335.49 222.55,334.75 224.58,334.04 226.62,333.38 228.65,332.76 230.68,332.19 232.72,331.66 234.75,331.19 236.78,330.77 238.82,330.41 240.85,330.1 242.88,329.85 244.92,329.67 246.95,329.54 248.98,329.49 251.02,329.5 253.05,329.59 255.08,329.75 257.12,329.99 259.15,330.31 259.15,367.26 161.55,367.26" fill="#d4d5d7"/>
<polygon points="161.55,357.13 163.58,356.82 165.62,356.48 167.65,356.11 169.68,355.7 171.72,355.26 173.75,354.78 175.78,354.26 177.82,353.71 179.85,353.12 181.88,352.49 183.92,351.84 185.95,351.15 187.98,350.42 190.02,349.67 192.05,348.89 194.08,348.09 196.12,347.27 198.15,346.42 200.18,345.56 202.22,344.7 204.25,343.82 206.28,342.95 208.32,342.08 210.35,341.21 212.38,340.36 214.42,339.53 216.45,338.72 218.48,337.93 220.52,337.18 222.55,336.46 224.58,335.78 226.62,335.14 228.65,334.54 230.68,334 232.72,333.51 234.75,333.07 236.78,332.69 238.82,332.36 240.85,332.1 242.88,331.91 244.92,331.78 246.95,331.72 248.98,331.73 251.02,331.82 253.05,331.98 255.08,332.23 257.12,332.56 259.15,332.99 259.15,367.26 161.55,367.26" fill="#b3b4b8"/>
<polygon points="161.55,362.15 163.58,362.09 165.62,362.03 167.65,361.96 169.68,361.89 171.72,361.82 173.75,361.76 175.78,361.69 177.82,361.62 179.85,361.55 181.88,361.49 183.92,361.42 185.95,361.36 187.98,361.3 190.02,361.24 192.05,361.19 194.08,361.14 196.12,361.09 198.15,361.05 200.18,361.01 202.22,360.98 204.25,360.96 206.28,360.94 208.32,360.93 210.35,360.92 212.38,360.92 214.42,360.94 216.45,360.96 218.48,360.98 220.52,361.02 222.55,361.07 224.58,361.12 226.62,361.19 228.65,361.26 230.68,361.35 232.72,361.44 234.75,361.54 236.78,361.65 238.82,361.78 240.85,361.91 242.88,362.04 244.92,362.19 246.95,362.34 248.98,362.5 251.02,362.67 253.05,362.84 255.08,363.02 257.12,363.2 259.15,363.39 259.15,367.26 161.55,367.26" fill="#000000"/>
<polyline points="161.55,361.8 163.58,361.74 165.62,361.68 167.65,361.61 169.68,361.54 171.72,361.47 173.75,361.41 175.78,361.34 177.82,361.27 179.85,361.2 181.88,361.14 183.92,361.07 185.95,361.01 187.98,360.95 190.02,360.89 192.05,360.84 194.08,360.79 196.12,360.74 198.15,360.7 200.18,360.66 202.22,360.63 204.25,360.61 206.28,360.59 208.32,360.58 210.35,360.57 212.38,360.57 214.42,360.59 216.45,360.61 218.48,360.63 220.52,360.67 222.55,360.72 224.58,360.77 226.62,360.84 228.65,360.91 230.68,361 232.72,361.09 234.75,361.19 236.78,361.3 238.82,361.43 240.85,361.56 242.88,361.69 244.92,361.84 246.95,361.99 248.98,362.15 251.02,362.32 253.05,362.49 255.08,362.67 257.12,362.85 259.15,363.04" fill="none" stroke="#ebebed" stroke-width="0.6"/>
<rect x="157.05" y="305.76" width="106.6" height="64.1" fill="none" stroke="#5e5e5e" stroke-width="0.9"/>
</g>
<g>
<path d="M270.7 359.57H377.3M270.7 344.2H377.3M270.7 328.82H377.3M270.7 313.45H377.3M287.4 305.76V369.86M311.8 305.76V369.86M336.2 305.76V369.86M360.6 305.76V369.86" stroke="#d6d6d6" stroke-width="0.4" fill="none"/>
<path d="M270.7 367.26H377.3M270.7 351.88H377.3M270.7 336.51H377.3M270.7 321.13H377.3M270.7 305.76H377.3M275.2 305.76V369.86M299.6 305.76V369.86M324 305.76V369.86M348.4 305.76V369.86M372.8 305.76V369.86" stroke="#c2c2c2" stroke-width="0.7" fill="none"/>
<polygon points="275.2,343.64 277.23,343.47 279.27,343.3 281.3,343.12 283.33,342.95 285.37,342.78 287.4,342.6 289.43,342.43 291.47,342.25 293.5,342.08 295.53,341.9 297.57,341.73 299.6,341.56 301.63,341.38 303.67,341.21 305.7,341.03 307.73,340.86 309.77,340.68 311.8,340.51 313.83,340.33 315.87,340.16 317.9,339.98 319.93,339.81 321.97,339.64 324,339.46 326.03,339.29 328.07,339.11 330.1,338.94 332.13,338.77 334.17,338.59 336.2,338.42 338.23,338.25 340.27,338.07 342.3,337.9 344.33,337.73 346.37,337.56 348.4,337.38 350.43,337.21 352.47,337.04 354.5,336.87 356.53,336.7 358.57,336.53 360.6,336.36 362.63,336.19 364.67,336.02 366.7,335.85 368.73,335.68 370.77,335.51 372.8,335.34 372.8,367.26 275.2,367.26" fill="#d4d5d7"/>
<polygon points="275.2,344.07 277.23,343.96 279.27,343.84 281.3,343.73 283.33,343.61 285.37,343.49 287.4,343.37 289.43,343.25 291.47,343.13 293.5,343.01 295.53,342.89 297.57,342.77 299.6,342.65 301.63,342.52 303.67,342.4 305.7,342.27 307.73,342.15 309.77,342.02 311.8,341.9 313.83,341.77 315.87,341.64 317.9,341.51 319.93,341.38 321.97,341.25 324,341.12 326.03,340.99 328.07,340.86 330.1,340.73 332.13,340.59 334.17,340.46 336.2,340.33 338.23,340.19 340.27,340.05 342.3,339.92 344.33,339.78 346.37,339.64 348.4,339.51 350.43,339.37 352.47,339.23 354.5,339.09 356.53,338.95 358.57,338.81 360.6,338.66 362.63,338.52 364.67,338.38 366.7,338.24 368.73,338.09 370.77,337.95 372.8,337.8 372.8,367.26 275.2,367.26" fill="#b3b4b8"/>
<polygon points="275.2,361.11 277.23,361.11 279.27,361.11 281.3,361.11 283.33,361.11 285.37,361.11 287.4,361.11 289.43,361.11 291.47,361.11 293.5,361.11 295.53,361.11 297.57,361.11 299.6,361.11 301.63,361.11 303.67,361.11 305.7,361.11 307.73,361.11 309.77,361.11 311.8,361.11 313.83,361.11 315.87,361.11 317.9,361.11 319.93,361.11 321.97,361.11 324,361.11 326.03,361.11 328.07,361.11 330.1,361.11 332.13,361.11 334.17,361.11 336.2,361.11 338.23,361.11 340.27,361.11 342.3,361.11 344.33,361.11 346.37,361.11 348.4,361.11 350.43,361.11 352.47,361.11 354.5,361.11 356.53,361.11 358.57,361.11 360.6,361.11 362.63,361.11 364.67,361.11 366.7,361.11 368.73,361.11 370.77,361.11 372.8,361.11 372.8,367.26 275.2,367.26" fill="#000000"/>
<polyline points="275.2,360.76 277.23,360.76 279.27,360.76 281.3,360.76 283.33,360.76 285.37,360.76 287.4,360.76 289.43,360.76 291.47,360.76 293.5,360.76 295.53,360.76 297.57,360.76 299.6,360.76 301.63,360.76 303.67,360.76 305.7,360.76 307.73,360.76 309.77,360.76 311.8,360.76 313.83,360.76 315.87,360.76 317.9,360.76 319.93,360.76 321.97,360.76 324,360.76 326.03,360.76 328.07,360.76 330.1,360.76 332.13,360.76 334.17,360.76 336.2,360.76 338.23,360.76 340.27,360.76 342.3,360.76 344.33,360.76 346.37,360.76 348.4,360.76 350.43,360.76 352.47,360.76 354.5,360.76 356.53,360.76 358.57,360.76 360.6,360.76 362.63,360.76 364.67,360.76 366.7,360.76 368.73,360.76 370.77,360.76 372.8,360.76" fill="none" stroke="#ebebed" stroke-width="0.6"/>
<rect x="270.7" y="305.76" width="106.6" height="64.1" fill="none" stroke="#5e5e5e" stroke-width="0.9"/>
</g>
<text x="37.4" y="371.76" font-size="10.2" fill="#5e5e5e" text-anchor="end">0.00</text>
<text x="37.4" y="356.38" font-size="10.2" fill="#5e5e5e" text-anchor="end">0.25</text>
<text x="37.4" y="341.01" font-size="10.2" fill="#5e5e5e" text-anchor="end">0.50</text>
<text x="37.4" y="325.63" font-size="10.2" fill="#5e5e5e" text-anchor="end">0.75</text>
<text x="37.4" y="310.26" font-size="10.2" fill="#5e5e5e" text-anchor="end">1.00</text>
<path d="M40.2 367.26H43.4M40.2 351.88H43.4M40.2 336.51H43.4M40.2 321.13H43.4M40.2 305.76H43.4" stroke="#333333" stroke-width="1.2" fill="none"/>
<rect x="377.3" y="305.76" width="19.9" height="64.1" fill="#d9d9d9" stroke="#8c8c8c" stroke-width="1"/>
<path d="M377.3 305.26V370.36" stroke="#555555" stroke-width="1.15" fill="none"/>
<text transform="translate(383.65 337.81) rotate(90)" font-size="10.2" fill="#1a1a1a" text-anchor="middle">Italy</text>
<g>
<path d="M43.4 430.81H150M43.4 415.44H150M43.4 400.06H150M43.4 384.69H150M60.1 377V441.1M84.5 377V441.1M108.9 377V441.1M133.3 377V441.1" stroke="#d6d6d6" stroke-width="0.4" fill="none"/>
<path d="M43.4 438.5H150M43.4 423.12H150M43.4 407.75H150M43.4 392.38H150M43.4 377H150M47.9 377V441.1M72.3 377V441.1M96.7 377V441.1M121.1 377V441.1M145.5 377V441.1" stroke="#c2c2c2" stroke-width="0.7" fill="none"/>
<polygon points="47.9,431.92 49.93,431.62 51.97,431.31 54,430.99 56.03,430.66 58.07,430.31 60.1,429.94 62.13,429.57 64.17,429.17 66.2,428.76 68.23,428.34 70.27,427.9 72.3,427.44 74.33,426.97 76.37,426.48 78.4,425.97 80.43,425.44 82.47,424.9 84.5,424.34 86.53,423.77 88.57,423.18 90.6,422.57 92.63,421.94 94.67,421.3 96.7,420.64 98.73,419.97 100.77,419.29 102.8,418.58 104.83,417.87 106.87,417.14 108.9,416.4 110.93,415.65 112.97,414.89 115,414.12 117.03,413.34 119.07,412.56 121.1,411.76 123.13,410.97 125.17,410.17 127.2,409.36 129.23,408.56 131.27,407.75 133.3,406.95 135.33,406.15 137.37,405.35 139.4,404.55 141.43,403.77 143.47,402.98 145.5,402.21 145.5,438.5 47.9,438.5" fill="#d4d5d7"/>
<polygon points="47.9,432.35 49.93,432.05 51.97,431.75 54,431.43 56.03,431.1 58.07,430.76 60.1,430.41 62.13,430.05 64.17,429.67 66.2,429.29 68.23,428.89 70.27,428.48 72.3,428.05 74.33,427.62 76.37,427.17 78.4,426.72 80.43,426.25 82.47,425.78 84.5,425.29 86.53,424.79 88.57,424.29 90.6,423.77 92.63,423.25 94.67,422.72 96.7,422.19 98.73,421.64 100.77,421.09 102.8,420.54 104.83,419.98 106.87,419.42 108.9,418.86 110.93,418.29 112.97,417.72 115,417.15 117.03,416.58 119.07,416.02 121.1,415.45 123.13,414.89 125.17,414.33 127.2,413.77 129.23,413.22 131.27,412.67 133.3,412.13 135.33,411.59 137.37,411.07 139.4,410.55 141.43,410.03 143.47,409.53 145.5,409.04 145.5,438.5 47.9,438.5" fill="#000000"/>
<polyline points="47.9,432 49.93,431.7 51.97,431.4 54,431.08 56.03,430.75 58.07,430.41 60.1,430.06 62.13,429.7 64.17,429.32 66.2,428.94 68.23,428.54 70.27,428.13 72.3,427.7 74.33,427.27 76.37,426.82 78.4,426.37 80.43,425.9 82.47,425.43 84.5,424.94 86.53,424.44 88.57,423.94 90.6,423.42 92.63,422.9 94.67,422.37 96.7,421.84 98.73,421.29 100.77,420.74 102.8,420.19 104.83,419.63 106.87,419.07 108.9,418.51 110.93,417.94 112.97,417.37 115,416.8 117.03,416.23 119.07,415.67 121.1,415.1 123.13,414.54 125.17,413.98 127.2,413.42 129.23,412.87 131.27,412.32 133.3,411.78 135.33,411.24 137.37,410.72 139.4,410.2 141.43,409.68 143.47,409.18 145.5,408.69" fill="none" stroke="#ebebed" stroke-width="0.6"/>
<rect x="43.4" y="377" width="106.6" height="64.1" fill="none" stroke="#5e5e5e" stroke-width="0.9"/>
</g>
<g>
<path d="M157.05 430.81H263.65M157.05 415.44H263.65M157.05 400.06H263.65M157.05 384.69H263.65M173.75 377V441.1M198.15 377V441.1M222.55 377V441.1M246.95 377V441.1" stroke="#d6d6d6" stroke-width="0.4" fill="none"/>
<path d="M157.05 438.5H263.65M157.05 423.12H263.65M157.05 407.75H263.65M157.05 392.38H263.65M157.05 377H263.65M161.55 377V441.1M185.95 377V441.1M210.35 377V441.1M234.75 377V441.1M259.15 377V441.1" stroke="#c2c2c2" stroke-width="0.7" fill="none"/>
<polygon points="161.55,436.28 163.58,436.11 165.62,435.92 167.65,435.72 169.68,435.5 171.72,435.27 173.75,435.01 175.78,434.73 177.82,434.42 179.85,434.09 181.88,433.74 183.92,433.35 185.95,432.93 187.98,432.48 190.02,431.99 192.05,431.46 194.08,430.9 196.12,430.29 198.15,429.63 200.18,428.93 202.22,428.19 204.25,427.39 206.28,426.54 208.32,425.64 210.35,424.69 212.38,423.69 214.42,422.64 216.45,421.54 218.48,420.39 220.52,419.19 222.55,417.95 224.58,416.67 226.62,415.36 228.65,414.01 230.68,412.65 232.72,411.26 234.75,409.86 236.78,408.45 238.82,407.05 240.85,405.65 242.88,404.26 244.92,402.89 246.95,401.54 248.98,400.23 251.02,398.95 253.05,397.7 255.08,396.5 257.12,395.34 259.15,394.23 259.15,438.5 161.55,438.5" fill="#d4d5d7"/>
<polygon points="161.55,436.52 163.58,436.36 165.62,436.18 167.65,435.99 169.68,435.78 171.72,435.55 173.75,435.3 175.78,435.04 177.82,434.75 179.85,434.44 181.88,434.11 183.92,433.75 185.95,433.37 187.98,432.96 190.02,432.52 192.05,432.05 194.08,431.56 196.12,431.03 198.15,430.48 200.18,429.89 202.22,429.28 204.25,428.63 206.28,427.96 208.32,427.26 210.35,426.53 212.38,425.78 214.42,425.01 216.45,424.21 218.48,423.4 220.52,422.57 222.55,421.74 224.58,420.89 226.62,420.04 228.65,419.18 230.68,418.33 232.72,417.48 234.75,416.64 236.78,415.81 238.82,415 240.85,414.21 242.88,413.44 244.92,412.69 246.95,411.97 248.98,411.28 251.02,410.62 253.05,410 255.08,409.41 257.12,408.86 259.15,408.35 259.15,438.5 161.55,438.5" fill="#000000"/>
<polyline points="161.55,436.17 163.58,436.01 165.62,435.83 167.65,435.64 169.68,435.43 171.72,435.2 173.75,434.95 175.78,434.69 177.82,434.4 179.85,434.09 181.88,433.76 183.92,433.4 185.95,433.02 187.98,432.61 190.02,432.17 192.05,431.7 194.08,431.21 196.12,430.68 198.15,430.13 200.18,429.54 202.22,428.93 204.25,428.28 206.28,427.61 208.32,426.91 210.35,426.18 212.38,425.43 214.42,424.66 216.45,423.86 218.48,423.05 220.52,422.22 222.55,421.39 224.58,420.54 226.62,419.69 228.65,418.83 230.68,417.98 232.72,417.13 234.75,416.29 236.78,415.46 238.82,414.65 240.85,413.86 242.88,413.09 244.92,412.34 246.95,411.62 248.98,410.93 251.02,410.27 253.05,409.65 255.08,409.06 257.12,408.51 259.15,408" fill="none" stroke="#ebebed" stroke-width="0.6"/>
<rect x="157.05" y="377" width="106.6" height="64.1" fill="none" stroke="#5e5e5e" stroke-width="0.9"/>
</g>
<g>
<path d="M270.7 430.81H377.3M270.7 415.44H377.3M270.7 400.06H377.3M270.7 384.69H377.3M287.4 377V441.1M311.8 377V441.1M336.2 377V441.1M360.6 377V441.1" stroke="#d6d6d6" stroke-width="0.4" fill="none"/>
<path d="M270.7 438.5H377.3M270.7 423.12H377.3M270.7 407.75H377.3M270.7 392.38H377.3M270.7 377H377.3M275.2 377V441.1M299.6 377V441.1M324 377V441.1M348.4 377V441.1M372.8 377V441.1" stroke="#c2c2c2" stroke-width="0.7" fill="none"/>
<polygon points="275.2,429.15 277.23,428.98 279.27,428.82 281.3,428.65 283.33,428.48 285.37,428.3 287.4,428.13 289.43,427.96 291.47,427.78 293.5,427.6 295.53,427.43 297.57,427.25 299.6,427.07 301.63,426.89 303.67,426.7 305.7,426.52 307.73,426.34 309.77,426.15 311.8,425.97 313.83,425.78 315.87,425.6 317.9,425.41 319.93,425.22 321.97,425.04 324,424.85 326.03,424.66 328.07,424.47 330.1,424.28 332.13,424.09 334.17,423.9 336.2,423.71 338.23,423.52 340.27,423.33 342.3,423.14 344.33,422.95 346.37,422.76 348.4,422.56 350.43,422.37 352.47,422.18 354.5,421.99 356.53,421.8 358.57,421.61 360.6,421.42 362.63,421.23 364.67,421.05 366.7,420.86 368.73,420.67 370.77,420.48 372.8,420.3 372.8,438.5 275.2,438.5" fill="#d4d5d7"/>
<polygon points="275.2,430.69 277.23,430.57 279.27,430.45 281.3,430.33 283.33,430.2 285.37,430.08 287.4,429.95 289.43,429.83 291.47,429.7 293.5,429.57 295.53,429.44 297.57,429.31 299.6,429.18 301.63,429.05 303.67,428.92 305.7,428.79 307.73,428.65 309.77,428.52 311.8,428.38 313.83,428.25 315.87,428.11 317.9,427.97 319.93,427.83 321.97,427.69 324,427.55 326.03,427.41 328.07,427.27 330.1,427.13 332.13,426.99 334.17,426.84 336.2,426.7 338.23,426.56 340.27,426.41 342.3,426.27 344.33,426.12 346.37,425.98 348.4,425.83 350.43,425.68 352.47,425.54 354.5,425.39 356.53,425.24 358.57,425.09 360.6,424.94 362.63,424.8 364.67,424.65 366.7,424.5 368.73,424.35 370.77,424.2 372.8,424.05 372.8,438.5 275.2,438.5" fill="#000000"/>
<polyline points="275.2,430.34 277.23,430.22 279.27,430.1 281.3,429.98 283.33,429.85 285.37,429.73 287.4,429.6 289.43,429.48 291.47,429.35 293.5,429.22 295.53,429.09 297.57,428.96 299.6,428.83 301.63,428.7 303.67,428.57 305.7,428.44 307.73,428.3 309.77,428.17 311.8,428.03 313.83,427.9 315.87,427.76 317.9,427.62 319.93,427.48 321.97,427.34 324,427.2 326.03,427.06 328.07,426.92 330.1,426.78 332.13,426.64 334.17,426.49 336.2,426.35 338.23,426.21 340.27,426.06 342.3,425.92 344.33,425.77 346.37,425.63 348.4,425.48 350.43,425.33 352.47,425.19 354.5,425.04 356.53,424.89 358.57,424.74 360.6,424.59 362.63,424.45 364.67,424.3 366.7,424.15 368.73,424 370.77,423.85 372.8,423.7" fill="none" stroke="#ebebed" stroke-width="0.6"/>
<rect x="270.7" y="377" width="106.6" height="64.1" fill="none" stroke="#5e5e5e" stroke-width="0.9"/>
</g>
<text x="37.4" y="443" font-size="10.2" fill="#5e5e5e" text-anchor="end">0.00</text>
<text x="37.4" y="427.62" font-size="10.2" fill="#5e5e5e" text-anchor="end">0.25</text>
<text x="37.4" y="412.25" font-size="10.2" fill="#5e5e5e" text-anchor="end">0.50</text>
<text x="37.4" y="396.88" font-size="10.2" fill="#5e5e5e" text-anchor="end">0.75</text>
<text x="37.4" y="381.5" font-size="10.2" fill="#5e5e5e" text-anchor="end">1.00</text>
<path d="M40.2 438.5H43.4M40.2 423.12H43.4M40.2 407.75H43.4M40.2 392.38H43.4M40.2 377H43.4" stroke="#333333" stroke-width="1.2" fill="none"/>
<rect x="377.3" y="377" width="19.9" height="64.1" fill="#d9d9d9" stroke="#8c8c8c" stroke-width="1"/>
<path d="M377.3 376.5V441.6" stroke="#555555" stroke-width="1.15" fill="none"/>
<text transform="translate(383.65 409.05) rotate(90)" font-size="10.2" fill="#1a1a1a" text-anchor="middle">Netherlands</text>
<g>
<path d="M43.4 502.05H150M43.4 486.68H150M43.4 471.3H150M43.4 455.93H150M60.1 448.24V512.34M84.5 448.24V512.34M108.9 448.24V512.34M133.3 448.24V512.34" stroke="#d6d6d6" stroke-width="0.4" fill="none"/>
<path d="M43.4 509.74H150M43.4 494.36H150M43.4 478.99H150M43.4 463.61H150M43.4 448.24H150M47.9 448.24V512.34M72.3 448.24V512.34M96.7 448.24V512.34M121.1 448.24V512.34M145.5 448.24V512.34" stroke="#c2c2c2" stroke-width="0.7" fill="none"/>
<polygon points="47.9,505.42 49.93,505.06 51.97,504.68 54,504.27 56.03,503.83 58.07,503.37 60.1,502.88 62.13,502.37 64.17,501.83 66.2,501.26 68.23,500.66 70.27,500.04 72.3,499.39 74.33,498.72 76.37,498.02 78.4,497.29 80.43,496.54 82.47,495.76 84.5,494.97 86.53,494.15 88.57,493.31 90.6,492.46 92.63,491.59 94.67,490.7 96.7,489.81 98.73,488.9 100.77,487.99 102.8,487.07 104.83,486.15 106.87,485.22 108.9,484.3 110.93,483.38 112.97,482.46 115,481.55 117.03,480.65 119.07,479.76 121.1,478.87 123.13,478.01 125.17,477.15 127.2,476.31 129.23,475.49 131.27,474.69 133.3,473.9 135.33,473.13 137.37,472.39 139.4,471.66 141.43,470.95 143.47,470.26 145.5,469.6 145.5,509.74 47.9,509.74" fill="#000000"/>
<rect x="43.4" y="448.24" width="106.6" height="64.1" fill="none" stroke="#5e5e5e" stroke-width="0.9"/>
</g>
<g>
<path d="M157.05 502.05H263.65M157.05 486.68H263.65M157.05 471.3H263.65M157.05 455.93H263.65M173.75 448.24V512.34M198.15 448.24V512.34M222.55 448.24V512.34M246.95 448.24V512.34" stroke="#d6d6d6" stroke-width="0.4" fill="none"/>
<path d="M157.05 509.74H263.65M157.05 494.36H263.65M157.05 478.99H263.65M157.05 463.61H263.65M157.05 448.24H263.65M161.55 448.24V512.34M185.95 448.24V512.34M210.35 448.24V512.34M234.75 448.24V512.34M259.15 448.24V512.34" stroke="#c2c2c2" stroke-width="0.7" fill="none"/>
<polygon points="161.55,498.61 163.58,498.4 165.62,498.18 167.65,497.97 169.68,497.76 171.72,497.54 173.75,497.33 175.78,497.12 177.82,496.9 179.85,496.69 181.88,496.47 183.92,496.26 185.95,496.05 187.98,495.84 190.02,495.62 192.05,495.41 194.08,495.2 196.12,494.99 198.15,494.79 200.18,494.58 202.22,494.37 204.25,494.17 206.28,493.97 208.32,493.77 210.35,493.57 212.38,493.37 214.42,493.17 216.45,492.98 218.48,492.78 220.52,492.59 222.55,492.4 224.58,492.22 226.62,492.03 228.65,491.85 230.68,491.67 232.72,491.5 234.75,491.32 236.78,491.15 238.82,490.98 240.85,490.81 242.88,490.65 244.92,490.49 246.95,490.33 248.98,490.18 251.02,490.02 253.05,489.87 255.08,489.73 257.12,489.58 259.15,489.44 259.15,509.74 161.55,509.74" fill="#000000"/>
<rect x="157.05" y="448.24" width="106.6" height="64.1" fill="none" stroke="#5e5e5e" stroke-width="0.9"/>
</g>
<g>
<path d="M270.7 502.05H377.3M270.7 486.68H377.3M270.7 471.3H377.3M270.7 455.93H377.3M287.4 448.24V512.34M311.8 448.24V512.34M336.2 448.24V512.34M360.6 448.24V512.34" stroke="#d6d6d6" stroke-width="0.4" fill="none"/>
<path d="M270.7 509.74H377.3M270.7 494.36H377.3M270.7 478.99H377.3M270.7 463.61H377.3M270.7 448.24H377.3M275.2 448.24V512.34M299.6 448.24V512.34M324 448.24V512.34M348.4 448.24V512.34M372.8 448.24V512.34" stroke="#c2c2c2" stroke-width="0.7" fill="none"/>
<polygon points="275.2,497.44 277.23,497.28 279.27,497.12 281.3,496.95 283.33,496.79 285.37,496.63 287.4,496.46 289.43,496.3 291.47,496.14 293.5,495.98 295.53,495.81 297.57,495.65 299.6,495.49 301.63,495.33 303.67,495.16 305.7,495 307.73,494.84 309.77,494.68 311.8,494.52 313.83,494.36 315.87,494.2 317.9,494.04 319.93,493.88 321.97,493.72 324,493.57 326.03,493.41 328.07,493.25 330.1,493.1 332.13,492.94 334.17,492.79 336.2,492.64 338.23,492.48 340.27,492.33 342.3,492.18 344.33,492.03 346.37,491.88 348.4,491.74 350.43,491.59 352.47,491.45 354.5,491.3 356.53,491.16 358.57,491.02 360.6,490.88 362.63,490.74 364.67,490.6 366.7,490.46 368.73,490.33 370.77,490.19 372.8,490.06 372.8,509.74 275.2,509.74" fill="#000000"/>
<rect x="270.7" y="448.24" width="106.6" height="64.1" fill="none" stroke="#5e5e5e" stroke-width="0.9"/>
</g>
<text x="37.4" y="514.24" font-size="10.2" fill="#5e5e5e" text-anchor="end">0.00</text>
<text x="37.4" y="498.86" font-size="10.2" fill="#5e5e5e" text-anchor="end">0.25</text>
<text x="37.4" y="483.49" font-size="10.2" fill="#5e5e5e" text-anchor="end">0.50</text>
<text x="37.4" y="468.11" font-size="10.2" fill="#5e5e5e" text-anchor="end">0.75</text>
<text x="37.4" y="452.74" font-size="10.2" fill="#5e5e5e" text-anchor="end">1.00</text>
<path d="M40.2 509.74H43.4M40.2 494.36H43.4M40.2 478.99H43.4M40.2 463.61H43.4M40.2 448.24H43.4" stroke="#333333" stroke-width="1.2" fill="none"/>
<rect x="377.3" y="448.24" width="19.9" height="64.1" fill="#d9d9d9" stroke="#8c8c8c" stroke-width="1"/>
<path d="M377.3 447.74V512.84" stroke="#555555" stroke-width="1.15" fill="none"/>
<text transform="translate(383.65 480.29) rotate(90)" font-size="10.2" fill="#1a1a1a" text-anchor="middle">Sweden</text>
<g>
<path d="M43.4 573.29H150M43.4 557.92H150M43.4 542.54H150M43.4 527.17H150M60.1 519.48V583.58M84.5 519.48V583.58M108.9 519.48V583.58M133.3 519.48V583.58" stroke="#d6d6d6" stroke-width="0.4" fill="none"/>
<path d="M43.4 580.98H150M43.4 565.6H150M43.4 550.23H150M43.4 534.85H150M43.4 519.48H150M47.9 519.48V583.58M72.3 519.48V583.58M96.7 519.48V583.58M121.1 519.48V583.58M145.5 519.48V583.58" stroke="#c2c2c2" stroke-width="0.7" fill="none"/>
<polygon points="47.9,522.37 49.93,522.51 51.97,522.66 54,522.83 56.03,523.01 58.07,523.22 60.1,523.44 62.13,523.69 64.17,523.96 66.2,524.26 68.23,524.59 70.27,524.94 72.3,525.33 74.33,525.76 76.37,526.22 78.4,526.72 80.43,527.27 82.47,527.86 84.5,528.5 86.53,529.19 88.57,529.93 90.6,530.73 92.63,531.59 94.67,532.5 96.7,533.47 98.73,534.5 100.77,535.58 102.8,536.73 104.83,537.93 106.87,539.17 108.9,540.47 110.93,541.81 112.97,543.18 115,544.59 117.03,546.01 119.07,547.46 121.1,548.91 123.13,550.36 125.17,551.8 127.2,553.23 129.23,554.63 131.27,556.01 133.3,557.35 135.33,558.64 137.37,559.89 139.4,561.09 141.43,562.24 143.47,563.33 145.5,564.37 145.5,580.98 47.9,580.98" fill="#000000"/>
<rect x="43.4" y="519.48" width="106.6" height="64.1" fill="none" stroke="#5e5e5e" stroke-width="0.9"/>
</g>
<g>
<path d="M157.05 573.29H263.65M157.05 557.92H263.65M157.05 542.54H263.65M157.05 527.17H263.65M173.75 519.48V583.58M198.15 519.48V583.58M222.55 519.48V583.58M246.95 519.48V583.58" stroke="#d6d6d6" stroke-width="0.4" fill="none"/>
<path d="M157.05 580.98H263.65M157.05 565.6H263.65M157.05 550.23H263.65M157.05 534.85H263.65M157.05 519.48H263.65M161.55 519.48V583.58M185.95 519.48V583.58M210.35 519.48V583.58M234.75 519.48V583.58M259.15 519.48V583.58" stroke="#c2c2c2" stroke-width="0.7" fill="none"/>
<polygon points="161.55,524.46 163.58,524.62 165.62,524.79 167.65,524.97 169.68,525.15 171.72,525.35 173.75,525.55 175.78,525.76 177.82,525.98 179.85,526.21 181.88,526.45 183.92,526.71 185.95,526.97 187.98,527.25 190.02,527.53 192.05,527.83 194.08,528.15 196.12,528.48 198.15,528.82 200.18,529.17 202.22,529.54 204.25,529.93 206.28,530.34 208.32,530.76 210.35,531.19 212.38,531.65 214.42,532.12 216.45,532.61 218.48,533.12 220.52,533.65 222.55,534.2 224.58,534.77 226.62,535.35 228.65,535.96 230.68,536.59 232.72,537.24 234.75,537.91 236.78,538.59 238.82,539.3 240.85,540.03 242.88,540.77 244.92,541.54 246.95,542.32 248.98,543.12 251.02,543.94 253.05,544.77 255.08,545.62 257.12,546.48 259.15,547.35 259.15,580.98 161.55,580.98" fill="#000000"/>
<rect x="157.05" y="519.48" width="106.6" height="64.1" fill="none" stroke="#5e5e5e" stroke-width="0.9"/>
</g>
<g>
<path d="M270.7 573.29H377.3M270.7 557.92H377.3M270.7 542.54H377.3M270.7 527.17H377.3M287.4 519.48V583.58M311.8 519.48V583.58M336.2 519.48V583.58M360.6 519.48V583.58" stroke="#d6d6d6" stroke-width="0.4" fill="none"/>
<path d="M270.7 580.98H377.3M270.7 565.6H377.3M270.7 550.23H377.3M270.7 534.85H377.3M270.7 519.48H377.3M275.2 519.48V583.58M299.6 519.48V583.58M324 519.48V583.58M348.4 519.48V583.58M372.8 519.48V583.58" stroke="#c2c2c2" stroke-width="0.7" fill="none"/>
<polygon points="275.2,524.47 277.23,524.62 279.27,524.78 281.3,524.95 283.33,525.12 285.37,525.31 287.4,525.51 289.43,525.72 291.47,525.94 293.5,526.18 295.53,526.42 297.57,526.68 299.6,526.95 301.63,527.24 303.67,527.54 305.7,527.85 307.73,528.18 309.77,528.52 311.8,528.89 313.83,529.26 315.87,529.66 317.9,530.07 319.93,530.5 321.97,530.95 324,531.42 326.03,531.91 328.07,532.41 330.1,532.94 332.13,533.48 334.17,534.05 336.2,534.63 338.23,535.24 340.27,535.86 342.3,536.5 344.33,537.17 346.37,537.85 348.4,538.54 350.43,539.26 352.47,539.99 354.5,540.74 356.53,541.5 358.57,542.27 360.6,543.06 362.63,543.86 364.67,544.67 366.7,545.48 368.73,546.31 370.77,547.14 372.8,547.97 372.8,580.98 275.2,580.98" fill="#000000"/>
<rect x="270.7" y="519.48" width="106.6" height="64.1" fill="none" stroke="#5e5e5e" stroke-width="0.9"/>
</g>
<text x="37.4" y="585.48" font-size="10.2" fill="#5e5e5e" text-anchor="end">0.00</text>
<text x="37.4" y="570.1" font-size="10.2" fill="#5e5e5e" text-anchor="end">0.25</text>
<text x="37.4" y="554.73" font-size="10.2" fill="#5e5e5e" text-anchor="end">0.50</text>
<text x="37.4" y="539.35" font-size="10.2" fill="#5e5e5e" text-anchor="end">0.75</text>
<text x="37.4" y="523.98" font-size="10.2" fill="#5e5e5e" text-anchor="end">1.00</text>
<path d="M40.2 580.98H43.4M40.2 565.6H43.4M40.2 550.23H43.4M40.2 534.85H43.4M40.2 519.48H43.4" stroke="#333333" stroke-width="1.2" fill="none"/>
<rect x="377.3" y="519.48" width="19.9" height="64.1" fill="#d9d9d9" stroke="#8c8c8c" stroke-width="1"/>
<path d="M377.3 518.98V584.08" stroke="#555555" stroke-width="1.15" fill="none"/>
<text transform="translate(383.65 551.53) rotate(90)" font-size="10.2" fill="#1a1a1a" text-anchor="middle">Hungary</text>
<g>
<path d="M43.4 644.53H150M43.4 629.16H150M43.4 613.78H150M43.4 598.41H150M60.1 590.72V654.82M84.5 590.72V654.82M108.9 590.72V654.82M133.3 590.72V654.82" stroke="#d6d6d6" stroke-width="0.4" fill="none"/>
<path d="M43.4 652.22H150M43.4 636.84H150M43.4 621.47H150M43.4 606.09H150M43.4 590.72H150M47.9 590.72V654.82M72.3 590.72V654.82M96.7 590.72V654.82M121.1 590.72V654.82M145.5 590.72V654.82" stroke="#c2c2c2" stroke-width="0.7" fill="none"/>
<polygon points="47.9,606.52 49.93,607.12 51.97,607.74 54,608.36 56.03,608.99 58.07,609.63 60.1,610.28 62.13,610.95 64.17,611.62 66.2,612.3 68.23,612.99 70.27,613.69 72.3,614.41 74.33,615.13 76.37,615.86 78.4,616.59 80.43,617.34 82.47,618.1 84.5,618.86 86.53,619.64 88.57,620.42 90.6,621.21 92.63,622 94.67,622.8 96.7,623.61 98.73,624.42 100.77,625.24 102.8,626.06 104.83,626.88 106.87,627.71 108.9,628.54 110.93,629.37 112.97,630.19 115,631.02 117.03,631.84 119.07,632.66 121.1,633.47 123.13,634.28 125.17,635.07 127.2,635.86 129.23,636.64 131.27,637.4 133.3,638.16 135.33,638.89 137.37,639.61 139.4,640.32 141.43,641 143.47,641.67 145.5,642.32 145.5,652.22 47.9,652.22" fill="#000000"/>
<rect x="43.4" y="590.72" width="106.6" height="64.1" fill="none" stroke="#5e5e5e" stroke-width="0.9"/>
</g>
<g>
<path d="M157.05 644.53H263.65M157.05 629.16H263.65M157.05 613.78H263.65M157.05 598.41H263.65M173.75 590.72V654.82M198.15 590.72V654.82M222.55 590.72V654.82M246.95 590.72V654.82" stroke="#d6d6d6" stroke-width="0.4" fill="none"/>
<path d="M157.05 652.22H263.65M157.05 636.84H263.65M157.05 621.47H263.65M157.05 606.09H263.65M157.05 590.72H263.65M161.55 590.72V654.82M185.95 590.72V654.82M210.35 590.72V654.82M234.75 590.72V654.82M259.15 590.72V654.82" stroke="#c2c2c2" stroke-width="0.7" fill="none"/>
<polygon points="161.55,614.86 163.58,615.37 165.62,615.9 167.65,616.43 169.68,616.97 171.72,617.53 173.75,618.09 175.78,618.67 177.82,619.25 179.85,619.85 181.88,620.46 183.92,621.08 185.95,621.71 187.98,622.35 190.02,622.99 192.05,623.65 194.08,624.32 196.12,625 198.15,625.68 200.18,626.37 202.22,627.07 204.25,627.78 206.28,628.49 208.32,629.2 210.35,629.92 212.38,630.65 214.42,631.37 216.45,632.09 218.48,632.82 220.52,633.54 222.55,634.26 224.58,634.98 226.62,635.69 228.65,636.4 230.68,637.09 232.72,637.78 234.75,638.46 236.78,639.13 238.82,639.78 240.85,640.43 242.88,641.05 244.92,641.66 246.95,642.26 248.98,642.84 251.02,643.4 253.05,643.94 255.08,644.46 257.12,644.96 259.15,645.44 259.15,652.22 161.55,652.22" fill="#000000"/>
<rect x="157.05" y="590.72" width="106.6" height="64.1" fill="none" stroke="#5e5e5e" stroke-width="0.9"/>
</g>
<g>
<path d="M270.7 644.53H377.3M270.7 629.16H377.3M270.7 613.78H377.3M270.7 598.41H377.3M287.4 590.72V654.82M311.8 590.72V654.82M336.2 590.72V654.82M360.6 590.72V654.82" stroke="#d6d6d6" stroke-width="0.4" fill="none"/>
<path d="M270.7 652.22H377.3M270.7 636.84H377.3M270.7 621.47H377.3M270.7 606.09H377.3M270.7 590.72H377.3M275.2 590.72V654.82M299.6 590.72V654.82M324 590.72V654.82M348.4 590.72V654.82M372.8 590.72V654.82" stroke="#c2c2c2" stroke-width="0.7" fill="none"/>
<polygon points="275.2,619.42 277.23,619.88 279.27,620.34 281.3,620.82 283.33,621.3 285.37,621.79 287.4,622.28 289.43,622.79 291.47,623.29 293.5,623.81 295.53,624.32 297.57,624.85 299.6,625.37 301.63,625.9 303.67,626.43 305.7,626.97 307.73,627.51 309.77,628.04 311.8,628.58 313.83,629.12 315.87,629.66 317.9,630.2 319.93,630.74 321.97,631.27 324,631.81 326.03,632.34 328.07,632.86 330.1,633.38 332.13,633.9 334.17,634.42 336.2,634.92 338.23,635.43 340.27,635.92 342.3,636.41 344.33,636.89 346.37,637.37 348.4,637.83 350.43,638.29 352.47,638.74 354.5,639.18 356.53,639.61 358.57,640.04 360.6,640.45 362.63,640.86 364.67,641.25 366.7,641.64 368.73,642.01 370.77,642.38 372.8,642.74 372.8,652.22 275.2,652.22" fill="#000000"/>
<rect x="270.7" y="590.72" width="106.6" height="64.1" fill="none" stroke="#5e5e5e" stroke-width="0.9"/>
</g>
<text x="37.4" y="656.72" font-size="10.2" fill="#5e5e5e" text-anchor="end">0.00</text>
<text x="37.4" y="641.34" font-size="10.2" fill="#5e5e5e" text-anchor="end">0.25</text>
<text x="37.4" y="625.97" font-size="10.2" fill="#5e5e5e" text-anchor="end">0.50</text>
<text x="37.4" y="610.59" font-size="10.2" fill="#5e5e5e" text-anchor="end">0.75</text>
<text x="37.4" y="595.22" font-size="10.2" fill="#5e5e5e" text-anchor="end">1.00</text>
<path d="M40.2 652.22H43.4M40.2 636.84H43.4M40.2 621.47H43.4M40.2 606.09H43.4M40.2 590.72H43.4" stroke="#333333" stroke-width="1.2" fill="none"/>
<rect x="377.3" y="590.72" width="19.9" height="64.1" fill="#d9d9d9" stroke="#8c8c8c" stroke-width="1"/>
<path d="M377.3 590.22V655.32" stroke="#555555" stroke-width="1.15" fill="none"/>
<text transform="translate(383.65 622.77) rotate(90)" font-size="10.2" fill="#1a1a1a" text-anchor="middle">Poland</text>
<rect x="43.4" y="0.6" width="106.6" height="19.7" fill="#d9d9d9" stroke="#404040" stroke-width="1.3"/>
<text x="96.7" y="15.0" font-size="10.35" fill="#1a1a1a" text-anchor="middle">Financial Precarity</text>
<text x="47.9" y="668.5" font-size="10.2" fill="#5e5e5e" text-anchor="middle">−2</text>
<text x="72.3" y="668.5" font-size="10.2" fill="#5e5e5e" text-anchor="middle">−1</text>
<text x="96.7" y="668.5" font-size="10.2" fill="#5e5e5e" text-anchor="middle">0</text>
<text x="121.1" y="668.5" font-size="10.2" fill="#5e5e5e" text-anchor="middle">1</text>
<text x="145.5" y="668.5" font-size="10.2" fill="#5e5e5e" text-anchor="middle">2</text>
<path d="M47.9 654.82V658.02M72.3 654.82V658.02M96.7 654.82V658.02M121.1 654.82V658.02M145.5 654.82V658.02" stroke="#333333" stroke-width="1.2" fill="none"/>
<rect x="157.05" y="0.6" width="106.6" height="19.7" fill="#d9d9d9" stroke="#404040" stroke-width="1.3"/>
<text x="210.35" y="15.0" font-size="10.35" fill="#1a1a1a" text-anchor="middle">Precarity at Work</text>
<text x="161.55" y="668.5" font-size="10.2" fill="#5e5e5e" text-anchor="middle">−2</text>
<text x="185.95" y="668.5" font-size="10.2" fill="#5e5e5e" text-anchor="middle">−1</text>
<text x="210.35" y="668.5" font-size="10.2" fill="#5e5e5e" text-anchor="middle">0</text>
<text x="234.75" y="668.5" font-size="10.2" fill="#5e5e5e" text-anchor="middle">1</text>
<text x="259.15" y="668.5" font-size="10.2" fill="#5e5e5e" text-anchor="middle">2</text>
<path d="M161.55 654.82V658.02M185.95 654.82V658.02M210.35 654.82V658.02M234.75 654.82V658.02M259.15 654.82V658.02" stroke="#333333" stroke-width="1.2" fill="none"/>
<rect x="270.7" y="0.6" width="106.6" height="19.7" fill="#d9d9d9" stroke="#404040" stroke-width="1.3"/>
<text x="324" y="15.0" font-size="10.35" fill="#1a1a1a" text-anchor="middle">Precarity of Tenure</text>
<text x="275.2" y="668.5" font-size="10.2" fill="#5e5e5e" text-anchor="middle">−2</text>
<text x="299.6" y="668.5" font-size="10.2" fill="#5e5e5e" text-anchor="middle">−1</text>
<text x="324" y="668.5" font-size="10.2" fill="#5e5e5e" text-anchor="middle">0</text>
<text x="348.4" y="668.5" font-size="10.2" fill="#5e5e5e" text-anchor="middle">1</text>
<text x="372.8" y="668.5" font-size="10.2" fill="#5e5e5e" text-anchor="middle">2</text>
<path d="M275.2 654.82V658.02M299.6 654.82V658.02M324 654.82V658.02M348.4 654.82V658.02M372.8 654.82V658.02" stroke="#333333" stroke-width="1.2" fill="none"/>
<text x="210.3" y="681.6" font-size="12.6" fill="#000" text-anchor="middle">Precarity</text>
<text transform="translate(11.3 338) rotate(-90)" font-size="12.6" fill="#000" text-anchor="middle">Vote Probability</text>
<rect x="417.4" y="313.3" width="18.5" height="18.2" fill="#d4d5d7"/>
<text x="443.6" y="326.1" font-size="10.2" fill="#000">Populist Left</text>
<rect x="417.4" y="333.4" width="18.5" height="18.2" fill="#b3b4b8"/>
<text x="443.6" y="346.2" font-size="10.2" fill="#000">Populist Center</text>
<rect x="417.4" y="353.5" width="18.5" height="18.2" fill="#000000"/>
<text x="443.6" y="366.3" font-size="10.2" fill="#000">Populist Right</text>
</svg>
</body></html>
